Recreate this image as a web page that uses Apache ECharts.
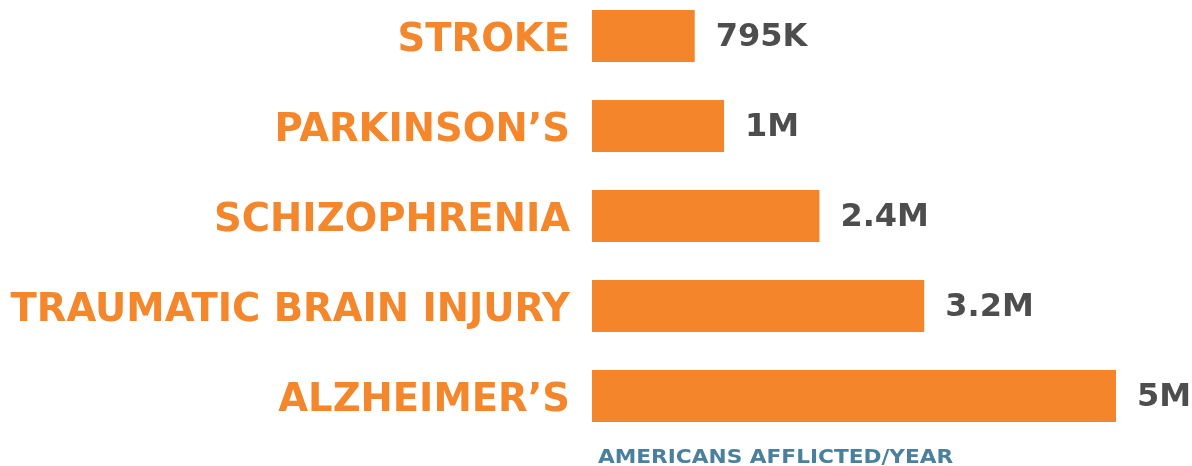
<!DOCTYPE html>
<html>
<head>
<meta charset="utf-8">
<script src="https://cdn.jsdelivr.net/npm/echarts@6/dist/echarts.min.js"></script>
<style>
  html, body { margin: 0; padding: 0; background: #fff; }
  #chart { width: 1192px; height: 466px; }
</style>
</head>
<body>
<div id="chart"></div>
<script>
// categories, top to bottom
const conditions = ['STROKE', 'PARKINSON\u2019S', 'SCHIZOPHRENIA', 'TRAUMATIC BRAIN INJURY', 'ALZHEIMER\u2019S']
// printed values
const valueLabels = ['795K', '1M', '2.4M', '3.2M', '5M']
// bar lengths as drawn in the picture (millions, the graphic is not to scale)
const barLengths = [0.98, 1.26, 2.17, 3.17, 5.0]
const axisTitle = 'AMERICANS AFFLICTED/YEAR'

const chart = echarts.init(document.getElementById('chart'))
chart.setOption({
  animation: false,
  graphic: [
    {
      // axis caption under the bars, widened to match the tracked lettering
      type: 'text',
      left: 598,
      top: 449,
      scaleX: 1.14,
      style: {
        text: axisTitle,
        fontFamily: 'DejaVu Sans',
        fontWeight: 'bold',
        fontSize: 19,
        fill: '#4a809e'
      }
    }
  ],
  grid: {
    left: 592,
    width: 524,
    top: -9,
    height: 450,
    outerBoundsMode: 'none',
    containLabel: false
  },
  xAxis: {
    type: 'value',
    min: 0,
    max: 5,
    show: false
  },
  yAxis: {
    type: 'category',
    inverse: true,
    data: conditions,
    axisLine: {show: false},
    axisTick: {show: false},
    axisLabel: {
      margin: 22,
      formatter: v => '{c|' + v + '}',
      rich: {
        c: {
          padding: [9, 0, 0, 0],
          fontFamily: 'DejaVu Sans',
          fontWeight: 'bold',
          fontSize: 38.5,
          color: '#f4862b'
        }
      }
    }
  },
  series: [
    {
      type: 'bar',
      data: barLengths,
      barWidth: 52,
      itemStyle: {color: '#f4852b'},
      label: {
        show: true,
        position: 'right',
        distance: 21,
        offset: [0, 2],
        formatter: p => valueLabels[p.dataIndex],
        fontFamily: 'DejaVu Sans',
        fontWeight: 'bold',
        fontSize: 32,
        color: '#4d4d4d'
      }
    }
  ]
})
</script>
</body>
</html>
